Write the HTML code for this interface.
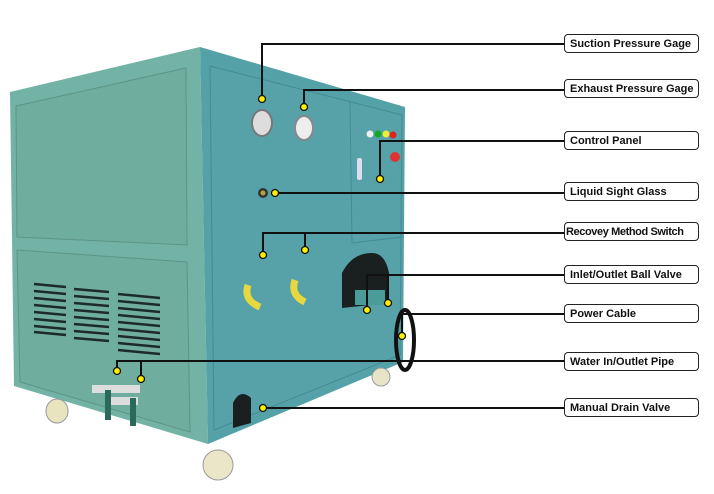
<!DOCTYPE html>
<html><head><style>
body{margin:0;background:#fff;width:714px;height:494px;overflow:hidden;font-family:"Liberation Sans",sans-serif}
.lb{position:absolute;left:564px;width:135px;height:19px;border:1.3px solid #222;border-radius:4px;background:#fff;font:bold 11px "Liberation Sans",sans-serif;line-height:18px;padding-left:5px;box-sizing:border-box;color:#111;white-space:nowrap;overflow:hidden}
</style></head><body>
<svg width="714" height="494" style="position:absolute;left:0;top:0">
<polygon points="10,92 200,47 208,444 14,386" fill="#72b3a5"/>
<polygon points="16,106 186,68 187,245 17,237" fill="#6fae9f" stroke="#5d9484" stroke-width="1"/>
<polygon points="17,250 187,262 190,432 20,382" fill="#6fae9f" stroke="#5d9484" stroke-width="1"/>
<g stroke="#1c2b29" stroke-width="2.5">
<line x1="34" y1="284" x2="66" y2="287"/><line x1="34" y1="291" x2="66" y2="294"/><line x1="34" y1="298" x2="66" y2="301"/><line x1="34" y1="305" x2="66" y2="308"/><line x1="34" y1="312" x2="66" y2="315"/><line x1="34" y1="319" x2="66" y2="322"/><line x1="34" y1="326" x2="66" y2="329"/><line x1="34" y1="332" x2="66" y2="335"/>
<line x1="74" y1="289" x2="109" y2="292"/><line x1="74" y1="296" x2="109" y2="299"/><line x1="74" y1="303" x2="109" y2="306"/><line x1="74" y1="310" x2="109" y2="313"/><line x1="74" y1="317" x2="109" y2="320"/><line x1="74" y1="324" x2="109" y2="327"/><line x1="74" y1="331" x2="109" y2="334"/><line x1="74" y1="338" x2="109" y2="341"/>
<line x1="118" y1="294" x2="160" y2="298"/><line x1="118" y1="301" x2="160" y2="305"/><line x1="118" y1="308" x2="160" y2="312"/><line x1="118" y1="315" x2="160" y2="319"/><line x1="118" y1="322" x2="160" y2="326"/><line x1="118" y1="329" x2="160" y2="333"/><line x1="118" y1="336" x2="160" y2="340"/><line x1="118" y1="343" x2="160" y2="347"/><line x1="118" y1="350" x2="160" y2="354"/>
</g>
<polygon points="200,47 405,107 403,362 208,444" fill="#55a1a8"/>
<polygon points="210,66 402,115 400,355 214,430" fill="#56a2a8" stroke="#468a90" stroke-width="1"/>
<line x1="350" y1="102" x2="352" y2="243" stroke="#468a90"/>
<line x1="352" y1="243" x2="402" y2="237" stroke="#468a90"/>
<ellipse cx="262" cy="123" rx="10" ry="13" fill="#ddd" stroke="#777" stroke-width="2"/>
<ellipse cx="304" cy="128" rx="9" ry="12" fill="#eee" stroke="#888" stroke-width="2"/>
<circle cx="263" cy="193" r="5" fill="#333"/><circle cx="263" cy="193" r="2.5" fill="#b8a040"/>
<circle cx="370" cy="134" r="3.5" fill="#eee"/><circle cx="378" cy="134" r="3.5" fill="#1a2"/><circle cx="386" cy="134" r="3.5" fill="#ee3"/><circle cx="393" cy="135" r="3.5" fill="#d22"/>
<circle cx="395" cy="157" r="5" fill="#d33"/><rect x="357" y="158" width="5" height="22" rx="2" fill="#dde"/>
<path d="M248,285 q-5,15 12,22" stroke="#e8d840" stroke-width="7" fill="none"/>
<path d="M295,280 q-5,15 10,22" stroke="#e8d840" stroke-width="7" fill="none"/>
<path d="M342,308 v-35 q10,-20 30,-20 q13,0 17,20 v30 z" fill="#1a1f20"/>
<rect x="355" y="290" width="30" height="15" fill="#4a9b9a"/>
<path d="M233,428 v-25 q7,-15 18,-5 v25 z" fill="#1a1f20"/>
<ellipse cx="405" cy="340" rx="9" ry="30" fill="none" stroke="#111" stroke-width="4"/>
<rect x="92" y="385" width="48" height="8" fill="#ddd"/><rect x="108" y="397" width="30" height="8" fill="#ddd"/>
<rect x="105" y="390" width="6" height="30" fill="#2a6a5a"/><rect x="130" y="398" width="6" height="28" fill="#2a6a5a"/>
<ellipse cx="57" cy="411" rx="11" ry="12" fill="#e8e4c0" stroke="#999"/>
<ellipse cx="218" cy="465" rx="15" ry="15" fill="#ebe6c8" stroke="#999"/>
<ellipse cx="381" cy="377" rx="9" ry="9" fill="#e8e4c8" stroke="#999"/>
<g stroke="#111" stroke-width="2" fill="none">
<polyline points="262,99 262,44 564,44"/>
<polyline points="304,107 304,90 564,90"/>
<polyline points="380,179 380,141 564,141"/>
<polyline points="275,193 564,193"/>
<polyline points="263,255 263,233 564,233"/>
<line x1="305" y1="250" x2="305" y2="233"/>
<polyline points="367,310 367,275 564,275"/>
<line x1="388" y1="303" x2="388" y2="275"/>
<polyline points="402,336 402,314 564,314"/>
<polyline points="117,371 117,361 564,361"/>
<line x1="141" y1="379" x2="141" y2="361"/>
<polyline points="263,408 564,408"/>
</g>
<g fill="#ffee00" stroke="#111" stroke-width="1.3">
<circle cx="262" cy="99" r="3.5"/><circle cx="304" cy="107" r="3.5"/><circle cx="380" cy="179" r="3.5"/><circle cx="275" cy="193" r="3.5"/><circle cx="263" cy="255" r="3.5"/><circle cx="305" cy="250" r="3.5"/><circle cx="367" cy="310" r="3.5"/><circle cx="388" cy="303" r="3.5"/><circle cx="402" cy="336" r="3.5"/><circle cx="117" cy="371" r="3.5"/><circle cx="141" cy="379" r="3.5"/><circle cx="263" cy="408" r="3.5"/>
</g>
</svg>
<div class="lb" style="top:34px">Suction Pressure Gage</div>
<div class="lb" style="top:79px">Exhaust Pressure Gage</div>
<div class="lb" style="top:131px">Control Panel</div>
<div class="lb" style="top:182px">Liquid Sight Glass</div>
<div class="lb" style="top:222px;padding-left:1px;letter-spacing:-0.4px">Recovey Method Switch</div>
<div class="lb" style="top:265px">Inlet/Outlet Ball Valve</div>
<div class="lb" style="top:304px">Power Cable</div>
<div class="lb" style="top:352px">Water In/Outlet Pipe</div>
<div class="lb" style="top:398px">Manual Drain Valve</div>
</body></html>
